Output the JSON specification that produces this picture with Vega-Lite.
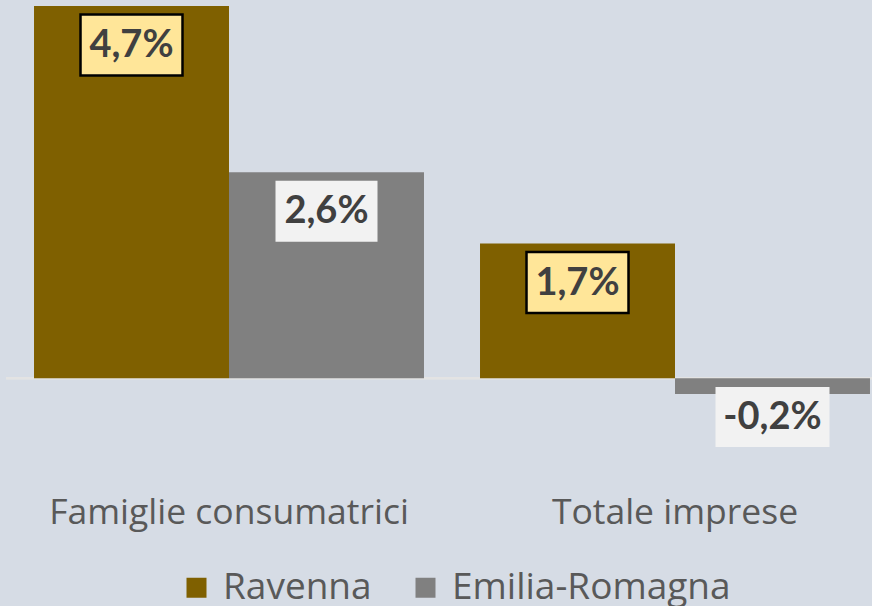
{
  "$schema": "https://vega.github.io/schema/vega-lite/v6.json",
  "autosize": {"type": "none"},
  "padding": {"left": 6, "top": 6, "right": 0, "bottom": 117},
  "width": 866,
  "height": 483,
  "background": "#D6DCE5",
  "config": {"view": {"stroke": null}, "font": "Lato"},
  "data": {"values": [
    {"categoria": "Famiglie consumatrici", "serie": "Ravenna", "valore": 4.7, "etichetta": "4,7%"},
    {"categoria": "Famiglie consumatrici", "serie": "Emilia-Romagna", "valore": 2.6, "etichetta": "2,6%"},
    {"categoria": "Totale imprese", "serie": "Ravenna", "valore": 1.7, "etichetta": "1,7%"},
    {"categoria": "Totale imprese", "serie": "Emilia-Romagna", "valore": -0.2, "etichetta": "-0,2%"}
  ]},
  "encoding": {
    "x": {"field": "categoria", "type": "nominal", "sort": ["Famiglie consumatrici", "Totale imprese"],
      "scale": {"paddingInner": 0.1256, "paddingOuter": 0.0628, "range": [0, 892]},
      "axis": {"title": null, "domain": false, "ticks": false, "tickSize": 0, "labelAngle": 0,
        "labelFont": "Open Sans", "labelFontSize": 35.5, "labelColor": "#595959", "labelLimit": 0,
        "labelBaseline": "alphabetic", "labelPadding": 34}},
    "xOffset": {"field": "serie", "type": "nominal", "sort": ["Ravenna", "Emilia-Romagna"]},
    "y": {"field": "valore", "type": "quantitative", "scale": {"domain": [-1.4, 4.7], "nice": false, "zero": false}, "axis": null}
  },
  "layer": [
    {"mark": {"type": "rule", "color": "#E3E3E3", "strokeWidth": 2},
     "encoding": {"x": null, "xOffset": null, "y": {"datum": 0, "type": "quantitative"}}},
    {"mark": {"type": "bar"},
     "encoding": {"color": {"field": "serie", "type": "nominal",
       "scale": {"domain": ["Ravenna", "Emilia-Romagna"], "range": ["#7F6000", "#808080"]},
       "legend": {"orient": "none", "legendX": 172, "legendY": 563, "direction": "horizontal", "title": null,
         "symbolType": "square", "symbolSize": 400, "symbolStrokeWidth": 0, "symbolOpacity": 1,
         "labelFont": "Open Sans", "labelFontSize": 37, "labelColor": "#595959", "labelOffset": 8, "labelLimit": 0,
         "columnPadding": 35, "padding": 0}}}},
    {"transform": [{"filter": "datum.valore >= 0"}],
     "mark": {"type": "point", "filled": true, "shape": "M-1,-0.598L1,-0.598L1,0.598L-1,0.598Z", "size": 10404, "strokeWidth": 2.5, "opacity": 1},
     "encoding": {
       "yOffset": {"value": 39},
       "fill": {"condition": {"test": "datum.serie === 'Ravenna'", "value": "#FFE699"}, "value": "#F2F2F2"},
       "stroke": {"condition": {"test": "datum.serie === 'Ravenna'", "value": "#000000"}, "value": "#F2F2F2"},
       "strokeWidth": {"condition": {"test": "datum.serie === 'Ravenna'", "value": 2.5}, "value": 0}
     }},
    {"transform": [{"filter": "datum.valore < 0"}],
     "mark": {"type": "point", "filled": true, "shape": "M-1,-0.526L1,-0.526L1,0.526L-1,0.526Z", "size": 12996, "strokeWidth": 0, "opacity": 1, "fill": "#F2F2F2"},
     "encoding": {"yOffset": {"value": 23}}},
    {"transform": [{"filter": "datum.valore >= 0"}],
     "mark": {"type": "text", "font": "Lato", "fontWeight": "bold", "fontSize": 38, "color": "#404040", "baseline": "middle", "align": "center"},
     "encoding": {"text": {"field": "etichetta"}, "yOffset": {"value": 40}}},
    {"transform": [{"filter": "datum.valore < 0"}],
     "mark": {"type": "text", "font": "Lato", "fontWeight": "bold", "fontSize": 38, "color": "#404040", "baseline": "middle", "align": "center"},
     "encoding": {"text": {"field": "etichetta"}, "yOffset": {"value": 24}}}
  ]
}
